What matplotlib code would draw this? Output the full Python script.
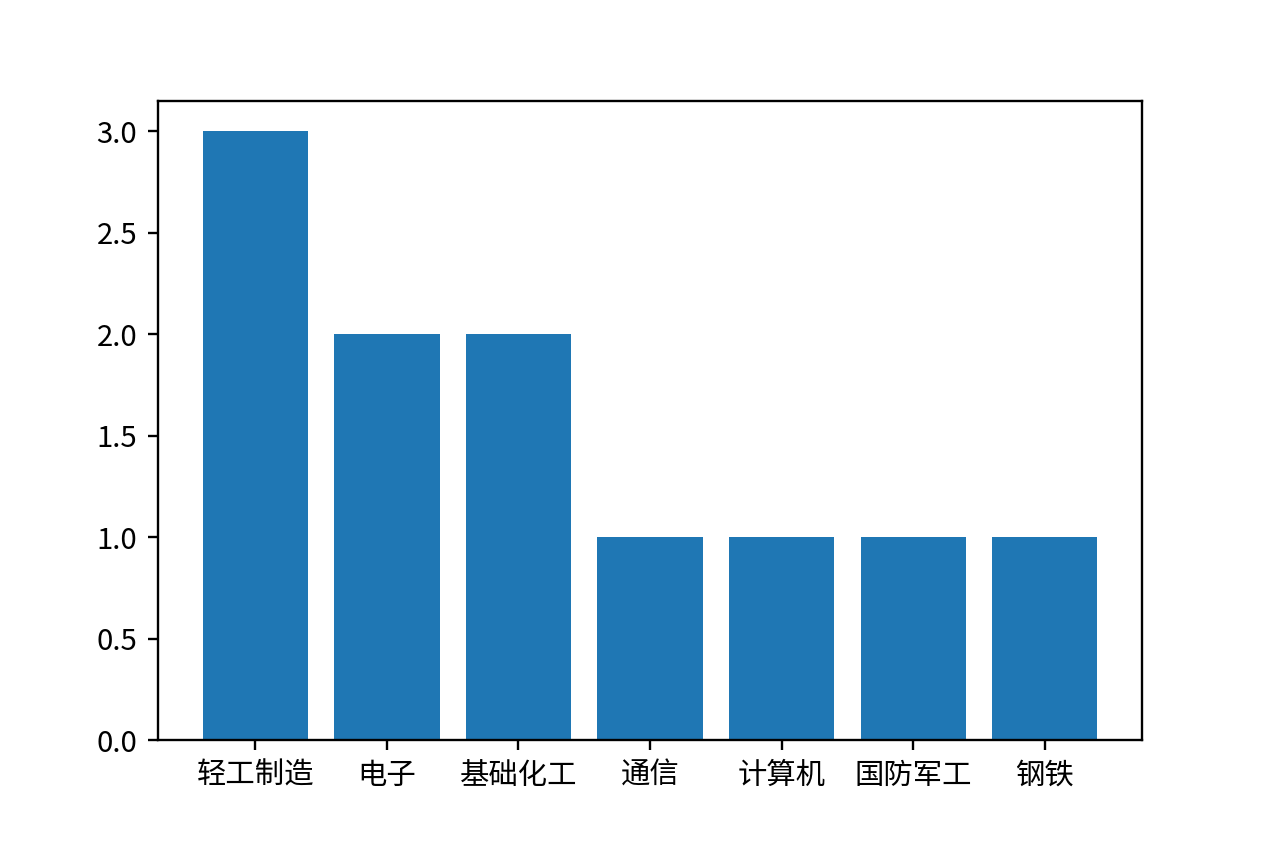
import matplotlib
matplotlib.use("Agg")
import matplotlib.pyplot as plt

plt.rcParams['font.family'] = ['Noto Sans CJK SC', 'DejaVu Sans']
plt.rcParams['axes.unicode_minus'] = False

categories = ['轻工制造', '电子', '基础化工', '通信', '计算机', '国防军工', '钢铁']
values = [3, 2, 2, 1, 1, 1, 1]

fig = plt.figure(figsize=(6, 4), dpi=211.5)
ax = fig.add_axes([0.1245, 0.125, 0.7755, 0.756])
ax.bar(categories, values, color='#1f77b4')
fig.savefig('out.png', dpi=211.5)
